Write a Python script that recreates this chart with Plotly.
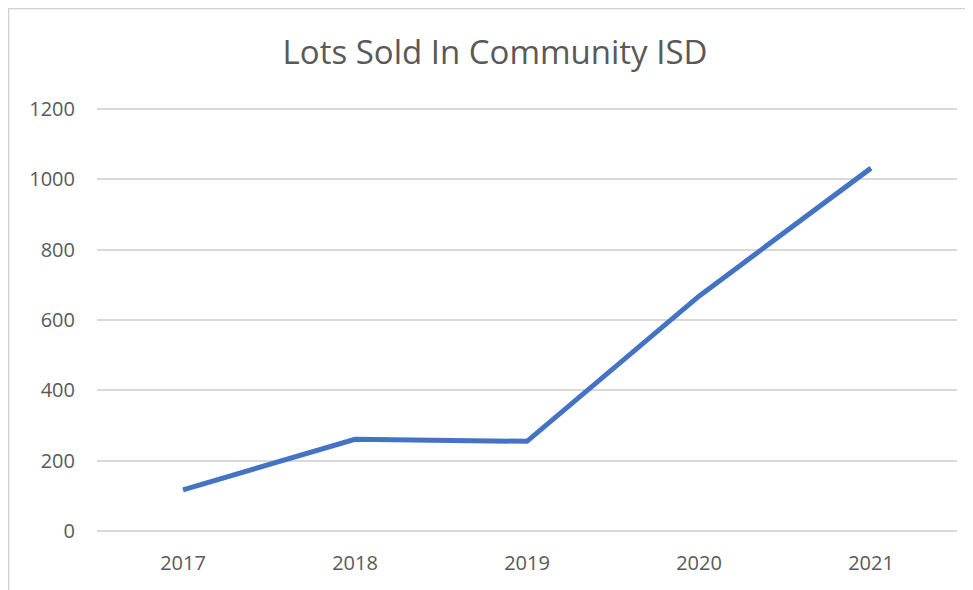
import plotly.graph_objects as go

years = ["2017", "2018", "2019", "2020", "2021"]
lots_sold = [117, 261, 255, 668, 1032]
y_ticks = [0, 200, 400, 600, 800, 1000, 1200]

# page has an 8px body margin, so the figure is placed at (8, 8)
OFF = 8
W, H = 973 - OFF, 590 - OFF
L, R, T, B = 97 - OFF, 16, 108 - OFF, 59
pw, ph = W - L - R, H - T - B

def px_x(x):
    return (x - L) / pw

def px_y(y):
    return (H - B - y) / ph

fig = go.Figure()
fig.add_trace(go.Scatter(
    x=years, y=lots_sold, mode="lines",
    line=dict(color="#4472C4", width=5),
    hoverinfo="x+y",
))

border = "#d0d0d0"
fig.add_shape(type="line", xref="paper", yref="paper",
              x0=px_x(0.5), x1=px_x(0.5), y0=px_y(0.5), y1=px_y(H),
              line=dict(color=border, width=1.5))
fig.add_shape(type="line", xref="paper", yref="paper",
              x0=px_x(0), x1=px_x(W), y0=px_y(0.5), y1=px_y(0.5),
              line=dict(color=border, width=1.5))

fig.update_layout(
    width=W, height=H,
    margin=dict(l=L, r=R, t=T, b=B),
    paper_bgcolor="white", plot_bgcolor="white",
    showlegend=False,
    title=dict(text="Lots Sold In Community ISD", x=px_x(495 - OFF), xanchor="center",
               xref="paper",
               y=1 - (52 - OFF) / H, yanchor="middle",
               font=dict(family="Open Sans", size=33, color="#595959")),
    font=dict(family="Open Sans", color="#595959"),
    xaxis=dict(type="category", range=[-0.5, 4.5], showgrid=False,
               showline=False, zeroline=False, ticks="",
               tickfont=dict(size=20, color="#595959"),
               ticklabelstandoff=18, fixedrange=True),
    yaxis=dict(range=[0, 1203], tickvals=y_ticks,
               showgrid=True, gridcolor="#d9d9d9", gridwidth=1.5,
               zeroline=True, zerolinecolor="#d9d9d9", zerolinewidth=1.5,
               showline=False, ticks="",
               tickfont=dict(size=20, color="#595959"),
               ticklabelstandoff=21, fixedrange=True),
)

fig.write_html("out.html")
